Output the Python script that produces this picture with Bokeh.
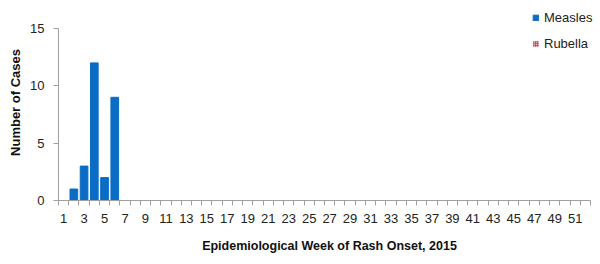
from bokeh.plotting import figure
from bokeh.models import FixedTicker, Range1d, Legend, LegendItem
from bokeh.embed import file_html
from bokeh.resources import INLINE

weeks = list(range(1, 53))
measles = [0, 1, 3, 12, 2, 9] + [0] * 46
rubella = [0] * 52
odd_labels = list(range(1, 52, 2))
y_ticks = [0, 5, 10, 15]
y_max = 15
n_weeks = 52

top_pad = 24 / (172 / y_max)
right_pad = 10 / (532 / n_weeks)

p = figure(width=600, height=264, output_backend="svg", toolbar_location=None,
           x_range=Range1d(0.5, n_weeks + 0.5 + right_pad), y_range=Range1d(0, y_max + top_pad),
           min_border_left=58, min_border_right=0, min_border_top=4, min_border_bottom=64)
p.outline_line_color = None
p.xgrid.visible = False
p.ygrid.visible = False
p.background_fill_color = "white"

r1 = p.vbar(x=weeks, top=measles, width=0.75, fill_color="#0A6CC4", line_color="#0A6CC4")
r2 = p.vbar(x=weeks, top=rubella, width=0.75, fill_color="#F4B0B0", line_color=None,
            hatch_pattern="+", hatch_color="#E8101E", hatch_scale=2, hatch_weight=1.2)

legend = Legend(items=[LegendItem(label="Measles", renderers=[r1]),
                       LegendItem(label="Rubella", renderers=[r2])],
                location=(474, 149), border_line_color=None, background_fill_alpha=0,
                label_text_font="Liberation Sans", label_text_font_size="13px",
                label_text_color="#222222", glyph_width=7, glyph_height=7,
                spacing=11, padding=0, margin=0, label_standoff=5,
                label_height=12)
p.add_layout(legend)

p.xaxis.ticker = FixedTicker(ticks=odd_labels, minor_ticks=[w + 0.5 for w in range(0, n_weeks + 1)])
p.xaxis.bounds = (0.5, n_weeks + 0.5)
p.xaxis.major_tick_out = 0
p.xaxis.major_tick_in = 0
p.xaxis.minor_tick_out = 5
p.xaxis.minor_tick_in = 0
p.xaxis.minor_tick_line_color = "#A0A0A0"
p.xaxis.axis_line_color = "#A0A0A0"
p.xaxis.major_label_standoff = 8
p.xaxis.axis_label = "Epidemiological Week of Rash Onset, 2015"
p.xaxis.axis_label_text_font = "Liberation Sans"
p.xaxis.axis_label_text_font_style = "bold"
p.xaxis.axis_label_text_font_size = "12.5px"
p.xaxis.axis_label_text_color = "#111111"
p.xaxis.axis_label_standoff = 13

p.yaxis.ticker = FixedTicker(ticks=y_ticks, minor_ticks=[])
p.yaxis.bounds = (0, y_max)
p.yaxis.major_tick_out = 5
p.yaxis.major_tick_in = 0
p.yaxis.major_tick_line_color = "#A0A0A0"
p.yaxis.axis_line_color = "#A0A0A0"
p.yaxis.major_label_standoff = 9
p.yaxis.axis_label = "Number of Cases"
p.yaxis.axis_label_text_font = "Liberation Sans"
p.yaxis.axis_label_text_font_style = "bold"
p.yaxis.axis_label_text_font_size = "13px"
p.yaxis.axis_label_text_color = "#111111"
p.yaxis.axis_label_standoff = 4

for ax in (p.xaxis, p.yaxis):
    ax.major_label_text_font = "Liberation Sans"
    ax.major_label_text_font_size = "13px"
    ax.major_label_text_color = "#222222"

open("out.html", "w").write(file_html(p, INLINE))
